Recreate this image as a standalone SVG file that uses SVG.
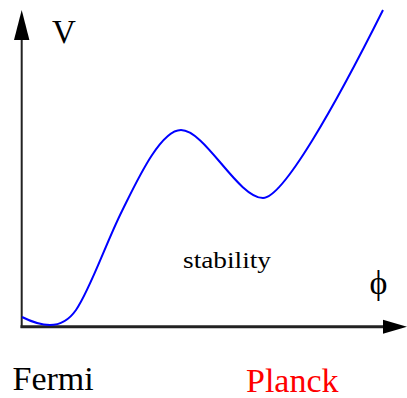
<svg xmlns="http://www.w3.org/2000/svg" width="407" height="398" viewBox="0 0 407 398">
<style>
.lbl{font-family:"Liberation Serif","Times New Roman",serif;fill:#000}
.axis{stroke:#222;fill:none}
.head{fill:#000;stroke:none}
</style>
<rect width="407" height="398" fill="#fff"/>
<g id="connectors">
<line class="axis" x1="21.7" y1="328" x2="21.7" y2="38" stroke-width="2"/>
<polygon class="head" points="21.7,10 14,40 29.4,40"/>
<line class="axis" x1="20.5" y1="326.7" x2="385" y2="326.7" stroke-width="3"/>
<polygon class="head" points="407,326.7 383,319.7 383,333.7"/>
</g>
<g id="curve">
<path d="M22,317 C34,323 42,325 50,325 C60,325 69,320 76,310 C90,290 106,243 122,211 C136,183 160,130 181,130 C205,130 238,198 263,198 C283,198 335,106 383,10" fill="none" stroke="#0000ff" stroke-width="2"/>
</g>
<g id="labels">
<text class="lbl" x="52" y="43" font-size="33">V</text>
<text class="lbl" x="183" y="268" font-size="23.5" textLength="88" lengthAdjust="spacingAndGlyphs">stability</text>
<text class="lbl" x="378.5" y="294" font-size="34" text-anchor="middle">ϕ</text>
<text class="lbl" x="12.5" y="390" font-size="34">Fermi</text>
<text class="lbl" x="246" y="392" font-size="34" style="fill:#ff0000">Planck</text>
</g>
</svg>
